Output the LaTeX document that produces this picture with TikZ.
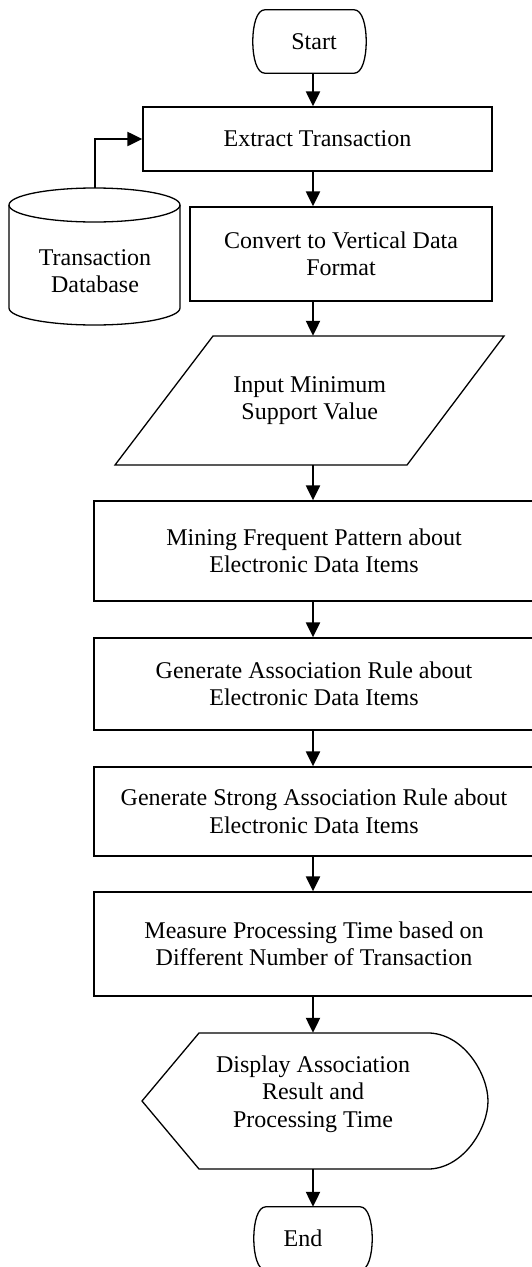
\documentclass[tikz,border=0pt]{standalone}
\usepackage{fontspec}
\setmainfont{Liberation Serif}
\usetikzlibrary{arrows.meta,calc}
\newcommand\myterminal[1]{%
  \draw[outline] ($(#1.north west)+(12,0)$) -- ($(#1.north east)+(-12,0)$)
    .. controls ($(#1.north east)+(-4,0)$) and ($(#1.north east)+(0,15)$) .. (#1.east)
    .. controls ($(#1.south east)+(0,-15)$) and ($(#1.south east)+(-4,0)$) .. ($(#1.south east)+(-12,0)$)
    -- ($(#1.south west)+(12,0)$)
    .. controls ($(#1.south west)+(4,0)$) and ($(#1.south west)+(0,-15)$) .. (#1.west)
    .. controls ($(#1.north west)+(0,15)$) and ($(#1.north west)+(4,0)$) .. ($(#1.north west)+(12,0)$) -- cycle;}
\begin{document}
\begin{tikzpicture}[x=1pt,y=-1pt,
  every node/.style={font=\fontsize{24}{27.5}\selectfont, align=center, inner sep=0pt},
  procbox/.style={draw, line width=1.3pt, rectangle},
  termbox/.style={rectangle},
  outline/.style={line width=1.3pt, line join=miter},
  arr/.style={line width=2.2pt, -{Triangle[length=15pt,width=14pt]}}]
\useasboundingbox (0,0) rectangle (531,1267);
\coordinate (ax) at (313,0);

% nodes
\node[termbox, minimum width=113pt, minimum height=63pt] (start) at (309.5,41.5) {\hspace*{9pt}Start};
\myterminal{start}
\node[procbox, minimum width=349pt, minimum height=64pt] (extract) at (317.5,139) {Extract Transaction};
\node[procbox, minimum width=302pt, minimum height=94pt] (convert) at (341,254) {Convert to Vertical Data\\Format};

% database cylinder
\node (db) at (95,271) {Transaction\\Database};
\coordinate (dbtop) at (95,188);
\draw[outline] (94.5,205) ellipse [x radius=85.5pt, y radius=17pt];
\draw[outline] (9,205) -- (9,308) .. controls (9,317.4) and (47.3,325) .. (94.5,325)
   .. controls (141.7,325) and (180,317.4) .. (180,308) -- (180,205);

% input parallelogram
\node[minimum width=292pt, minimum height=129pt] (inp) at (309.75,400.5) {Input Minimum\\Support Value};
\draw[outline] (213,336) -- (504,336) -- (407,465) -- (115,465) -- cycle;

\node[procbox, minimum width=440pt, minimum height=100pt] (mine) at (314,551) {Mining Frequent Pattern about\\Electronic Data Items};
\node[procbox, minimum width=440pt, minimum height=92pt] (gen) at (314,684) {Generate Association Rule about\\Electronic Data Items};
\node[procbox, minimum width=440pt, minimum height=89pt] (strong) at (314,811.5) {Generate Strong Association Rule about\\Electronic Data Items};
\node[procbox, minimum width=440pt, minimum height=104pt] (meas) at (314,944) {Measure Processing Time based on\\Different Number of Transaction};

% display shape
\node[minimum width=346pt, minimum height=136pt] (disp) at (315,1101) {};
\draw[outline] (142,1101) -- (199,1033) -- (430,1033)
   .. controls (465,1035) and (488,1075) .. (488,1101)
   .. controls (488,1127) and (465,1167) .. (430,1169) -- (199,1169) -- cycle;
\node (disptext) at (313,1094) {Display Association\\Result and\\Processing Time};

\node[termbox, minimum width=118pt, minimum height=63pt] (end) at (313,1238.5) {End\hspace*{20pt}};
\myterminal{end}

% connectors
\draw[arr] (start.south -| ax) -- (extract.north -| ax);
\draw[arr] (dbtop) |- (extract.west);
\draw[arr] (extract.south -| ax) -- (convert.north -| ax);
\draw[arr] (convert.south -| ax) -- (inp.north -| ax);
\draw[arr] (inp.south -| ax) -- (mine.north -| ax);
\draw[arr] (mine.south -| ax) -- (gen.north -| ax);
\draw[arr] (gen.south -| ax) -- (strong.north -| ax);
\draw[arr] (strong.south -| ax) -- (meas.north -| ax);
\draw[arr] (meas.south -| ax) -- (disp.north -| ax);
\draw[arr] (disp.south -| ax) -- (end.north -| ax);
\end{tikzpicture}
\end{document}
